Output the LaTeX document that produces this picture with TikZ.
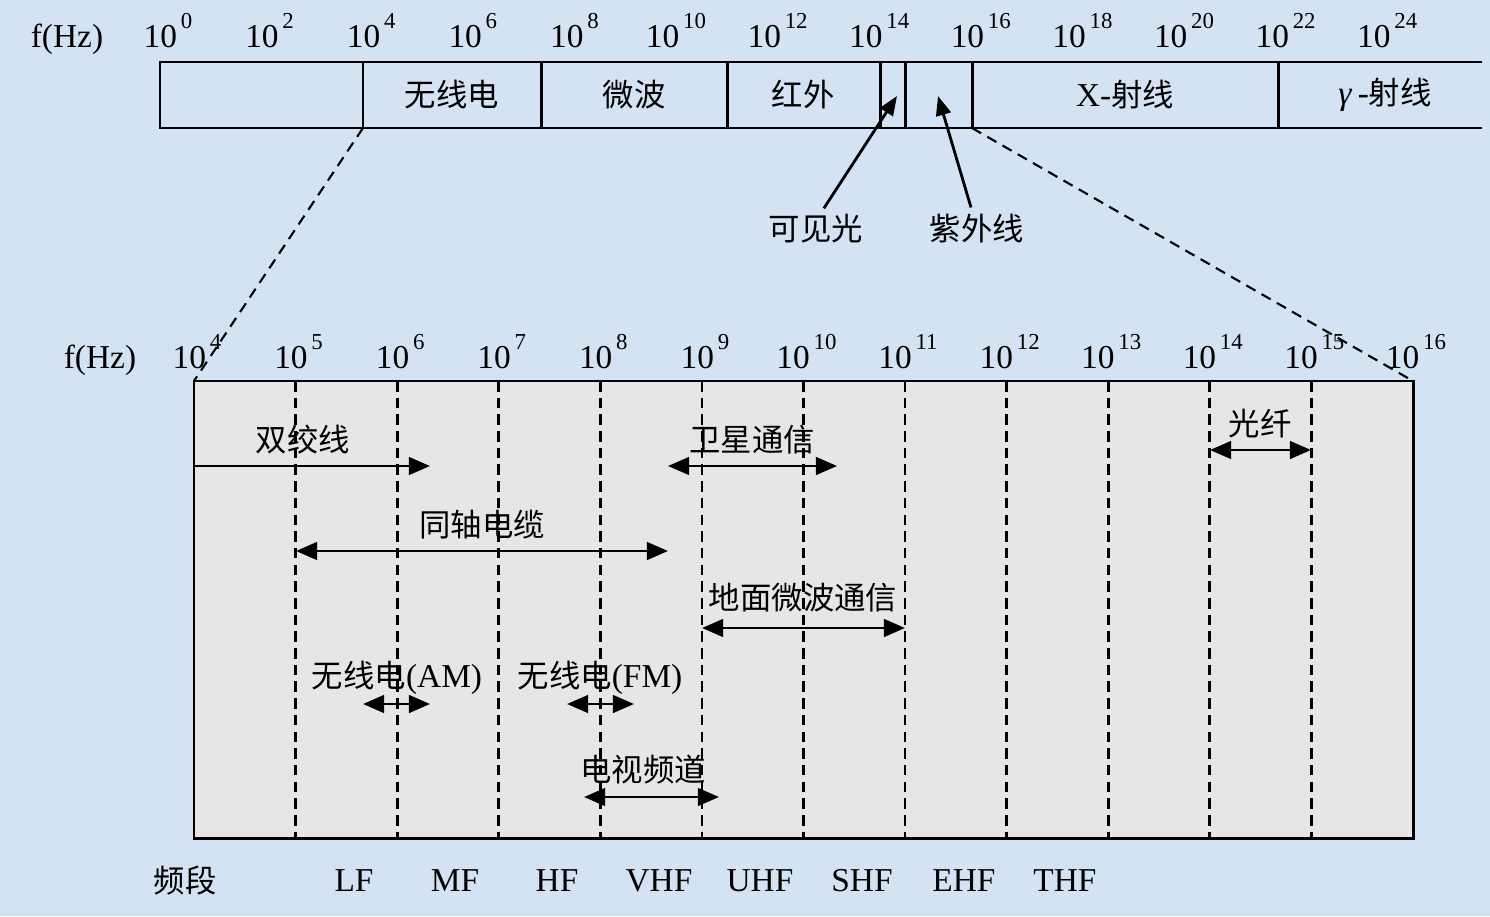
\documentclass[tikz,border=0pt]{standalone}
\usepackage{fontspec}
\setmainfont{Liberation Serif}
\newfontfamily\cjk{Noto Sans CJK SC}[Scale=0.94]
\usetikzlibrary{positioning,arrows.meta}
\definecolor{bgblue}{RGB}{212,227,244}
\definecolor{boxgray}{RGB}{230,230,230}
\newcommand{\pw}[1]{10\raisebox{10.5pt}{\fontsize{13}{13}\selectfont\,#1}}
\tikzset{
  lbl/.style={inner sep=0pt, font=\fontsize{19}{21}\selectfont},
  zh/.style={lbl, font=\fontsize{19}{21}\selectfont\cjk},
  frame/.style={line width=1.7pt},
  grid/.style={line width=1.6pt, dash pattern=on 6pt off 3.5pt},
  zoomline/.style={line width=1.2pt, dash pattern=on 6pt off 4pt},
  band/.style={line width=1.6pt, >={Triangle[length=12pt,width=10pt]}},
  pointer/.style={->, line width=1.6pt, >={Triangle[length=11pt,width=8.5pt]}, shorten <=4pt},
}
\begin{document}
\begin{tikzpicture}[x=0.02cm,y=-0.02cm]
\fill[bgblue] (0,0) rectangle (1490,916);
\useasboundingbox (0,0) rectangle (1490,916);

% spectrum bar
\node[lbl,anchor=base] (fhz) at (67,47) {f(Hz)};
\foreach \e [count=\i from 0] in {0,2,...,24}
  \node[lbl,anchor=base] (p\e) at (168+101.6*\i,47) {\pw{\e}};
\draw[frame] (1482,62) -- (160,62) -- (160,128) -- (1482,128);
\foreach \x in {363,541,727,880,905,972,1278}
  \draw[frame] (\x,62) -- (\x,128);
\coordinate (radioSW) at (363,128);
\coordinate (uvSE) at (972,128);
\node[zh] (radio) at (452,95) {无线电};
\node[zh] (micro) at (634,95) {微波};
\node[zh] (ir) at (803,95) {红外};
\node[lbl] (xray) at (1125,95) {X-{\cjk 射线}};
\node[lbl] (gray) at (1385,95) {\textit{γ}\,-{\cjk 射线}};

% visible / ultraviolet
\node[zh] (vis) at (816,229) {可见光};
\node[zh] (uv) at (977,229) {紫外线};
\coordinate (visTip) at (897,96);
\coordinate (uvTip) at (938,96);
\draw[pointer] (vis.north) ++(4,0) -- (visTip);
\draw[pointer] (uv.north) ++(-4,0) -- (uvTip);

% zoomed radio range
\node[lbl,anchor=base] (fhz2) at (100,368) {f(Hz)};
\draw[frame, fill=boxgray] (194,381) coordinate (boxNW) rectangle (1413,838);
\coordinate (boxNE) at (1413,381);
\foreach \e [count=\i from 0] in {4,...,16}{
  \coordinate (d\e) at (194+101.58*\i,381);
  \node[lbl,anchor=base] (q\e) at (197+101.58*\i,368) {\pw{\e}};
}
\foreach \e in {5,...,15}
  \draw[grid] (d\e) -- (d\e |- 0,838);
\draw[zoomline] (radioSW) -- (boxNW);
\draw[zoomline] (uvSE) -- (boxNE);

% media
\coordinate (tw-l) at (194,466);
\coordinate (tw-r) at (430,466);
\draw[band,->] (tw-l) -- (tw-r);
\node[zh] (tw) at (303,440) {双绞线};
\foreach \n/\xa/\xb/\yy/\lx/\ly/\txt in {
  sat/668/837/466/752/440/卫星通信,
  fiber/1210/1311/450/1260/424/光纤,
  coax/296/668/551/482/525/同轴电缆,
  mw/702/905/628/803/598/地面微波通信,
  tv/584/719/797/643/770/电视频道}{
  \coordinate (\n-l) at (\xa,\yy);
  \coordinate (\n-r) at (\xb,\yy);
  \draw[band,<->] (\n-l) -- (\n-r);
  \node[zh] (\n) at (\lx,\ly) {\txt};
}
\foreach \n/\xa/\xb/\lx/\txt in {am/363/430/397/AM, fm/567/634/600/FM}{
  \coordinate (\n-l) at (\xa,704);
  \coordinate (\n-r) at (\xb,704);
  \draw[band,<->] (\n-l) -- (\n-r);
  \node[lbl] (\n) at (\lx,678) {{\cjk 无线电}(\txt)};
}

% bands
\node[zh] (bands) at (185,881) {频段};
\foreach \b/\x in {LF/354,MF/455,HF/557,VHF/659,UHF/760,SHF/862,EHF/964,THF/1065}
  \node[lbl] (\b) at (\x,881) {\b};
\end{tikzpicture}
\end{document}
